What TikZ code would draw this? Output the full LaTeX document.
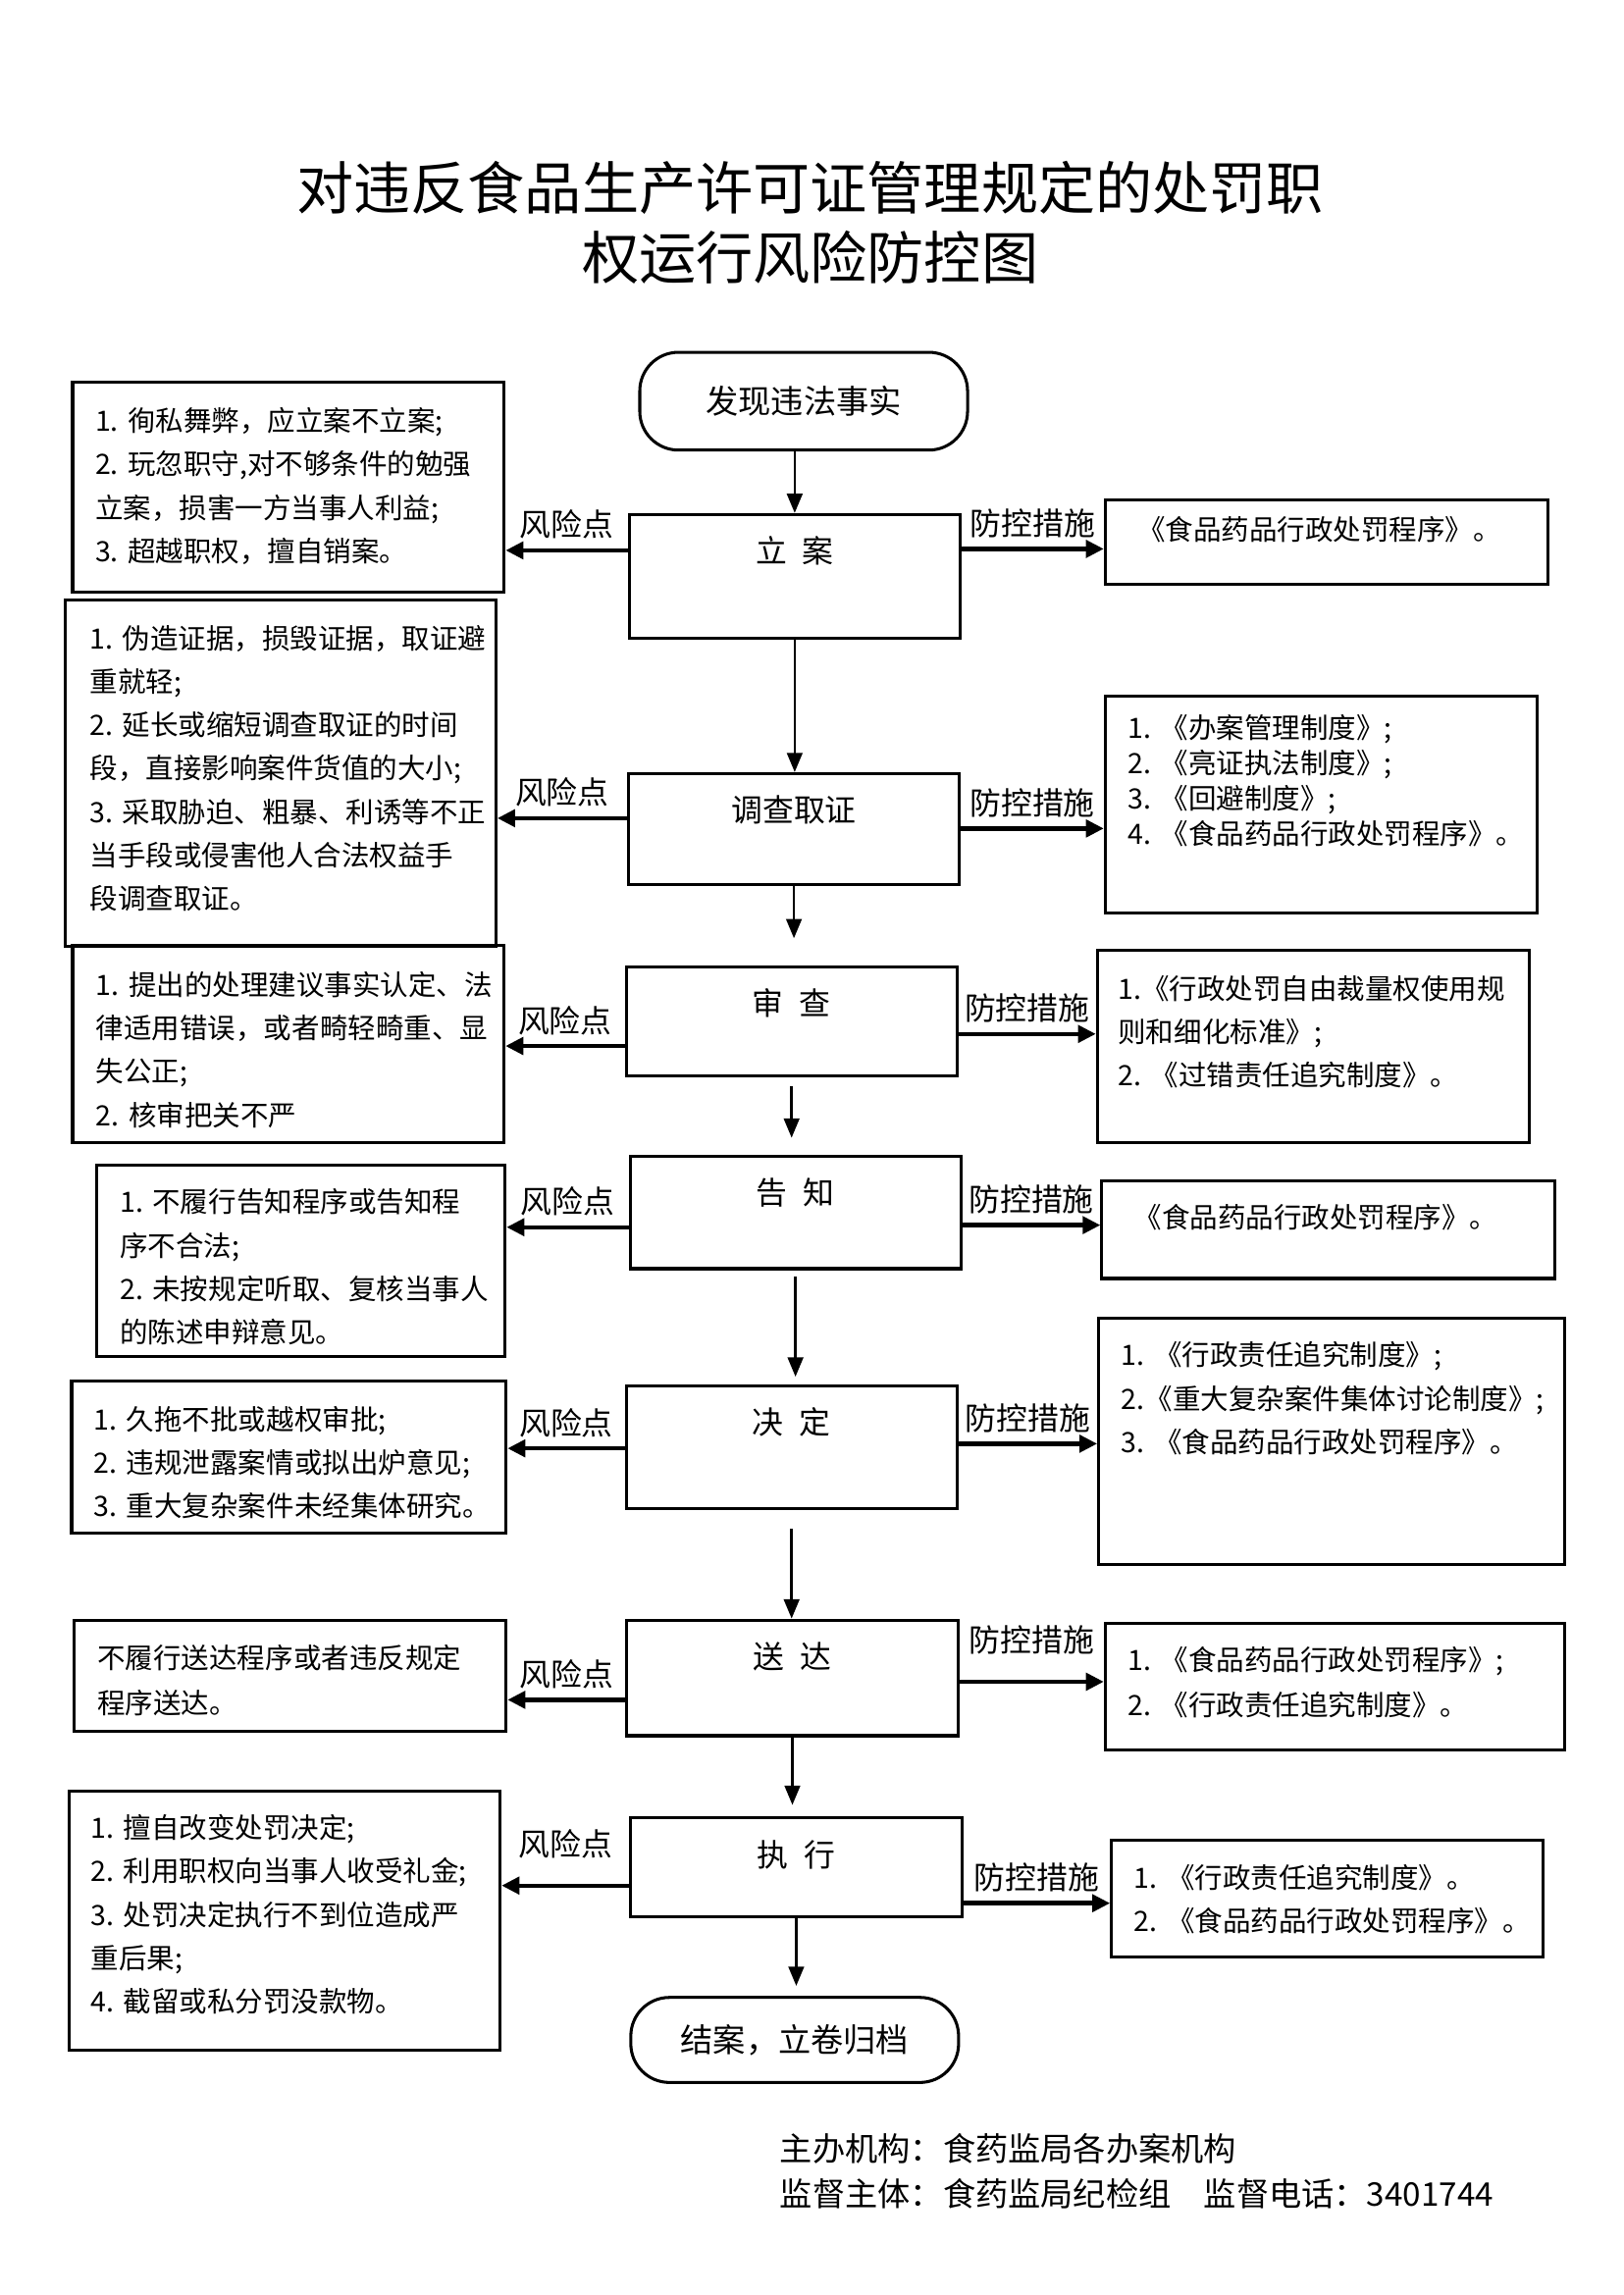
\documentclass[tikz,border=0pt]{standalone}
\usepackage{fontspec}
\setmainfont{Noto Sans CJK SC}
\usetikzlibrary{arrows.meta}

\newcommand{\titlefont}{\fontsize{21pt}{25.7pt}\selectfont}
\newcommand{\boxfont}{\fontsize{10.3pt}{16pt}\selectfont}
\newcommand{\lblfont}{\fontsize{11.5pt}{14pt}\selectfont}
\newcommand{\stagefont}{\fontsize{11.5pt}{14pt}\selectfont}
\newcommand{\capfont}{\fontsize{12pt}{16.4pt}\selectfont}

\begin{document}
\begin{tikzpicture}[x=1mm, y=-1mm, >={Triangle[length=2.5mm, width=2mm]},
  stagebox/.style={draw, line width=1.1pt, anchor=north, inner sep=0pt,
    minimum width=42.8mm, text height=6.25mm, text depth=#1, font=\stagefont},
  infobox/.style={draw, line width=1.1pt, anchor=north west, inner ysep=0pt,
    align=left, font=\boxfont},
  terminal/.style={draw, line width=1.1pt, rounded corners=5mm,
    minimum width=42.4mm, font=\capfont},
  flow/.style={->, line width=0.9pt},
  sidearrow/.style={-{Triangle[length=2.3mm, width=2.2mm]}, line width=1.6pt},
  lbl/.style={font=\lblfont}]
  \fill[white] (0,0) rectangle (210,296.9);
  \useasboundingbox (0,0) rectangle (210,296.9);

  \node[anchor=base, text width=190mm, align=center, font=\titlefont] (title) at (104.81,27.08)
    {对违反食品生产许可证管理规定的处罚职\\权运行风险防控图};

  % main column
  \node[terminal, minimum height=12.65mm] (start) at (103.96,51.9) {发现违法事实};
  \node[stagebox=9.70mm] (lian) at (102.8,66.37) {立\hspace{0.5em}案};
  \node[stagebox=8.05mm] (diaocha) at (102.7,99.89) {调查取证};
  \node[stagebox=7.80mm] (shencha) at (102.4,124.88) {审\hspace{0.5em}查};
  \node[stagebox=8.29mm] (gaozhi) at (102.9,149.39) {告\hspace{0.5em}知};
  \node[stagebox=9.56mm] (jueding) at (102.4,179.10) {决\hspace{0.5em}定};
  \node[stagebox=8.71mm] (songda) at (102.5,209.39) {送\hspace{0.5em}达};
  \node[stagebox=6.55mm] (zhixing) at (103.0,235.0) {执\hspace{0.5em}行};
  \node[terminal, minimum height=11mm] (finish) at (102.8,263.9) {结案，立卷归档};

  \draw[flow] (start.south -| lian.north) -- (lian.north);
  \draw[flow] (lian.south) -- (lian.south |- diaocha.north);
  \draw[flow, shorten >=3.5mm] (diaocha.south) -- (diaocha.south |- shencha.north);
  \draw[flow, shorten <=1.2mm, shorten >=2.2mm] (shencha.south) -- (shencha.south |- gaozhi.north);
  \draw[flow, shorten <=0.8mm, shorten >=1mm] (gaozhi.south) -- (gaozhi.south |- jueding.north);
  \draw[flow, shorten <=2.5mm] (jueding.south) -- (jueding.south |- songda.north);
  \draw[flow, shorten >=1.5mm] (songda.south) -- (songda.south |- zhixing.north);
  \draw[flow, shorten >=1.3mm] (zhixing.south) -- (zhixing.south |- finish.north);

  % risk points
  \node[infobox, minimum width=55.82mm, inner xsep=2.92mm, text width=49.98mm,
    text height=6.38mm, text depth=20.81mm] (risk1) at (9.20,49.23)
    {1.~徇私舞弊，应立案不立案;\\2.~玩忽职守,对不够条件的勉强\\立案，损害一方当事人利益;\\3.~超越职权，擅自销案。};
  \node[infobox, minimum width=55.75mm, inner xsep=3.22mm, text width=49.31mm,
    text height=6.34mm, text depth=38.52mm] (risk2) at (8.20,77.37)
    {1.~伪造证据，损毁证据，取证避\\重就轻;\\2.~延长或缩短调查取证的时间\\段，直接影响案件货值的大小;\\3.~采取胁迫、粗暴、利诱等不正\\当手段或侵害他人合法权益手\\段调查取证。};
  \node[infobox, minimum width=55.80mm, inner xsep=3.03mm, text width=49.74mm,
    text height=6.42mm, text depth=19.09mm] (risk3) at (9.20,122.12)
    {1.~提出的处理建议事实认定、法\\律适用错误，或者畸轻畸重、显\\失公正;\\2.~核审把关不严};
  \node[infobox, minimum width=52.85mm, inner xsep=3.03mm, text width=46.79mm,
    text height=6.08mm, text depth=18.69mm] (risk4) at (12.29,150.58)
    {1.~不履行告知程序或告知程\\序不合法;\\2.~未按规定听取、复核当事人\\的陈述申辩意见。};
  \node[infobox, minimum width=56.20mm, inner xsep=2.88mm, text width=50.44mm,
    text height=6.32mm, text depth=13.41mm] (risk5) at (9.07,178.43)
    {1.~久拖不批或越权审批;\\2.~违规泄露案情或拟出炉意见;\\3.~重大复杂案件未经集体研究。};
  \node[infobox, minimum width=55.88mm, inner xsep=3.03mm, text width=49.82mm,
    text height=6.15mm, text depth=8.12mm, font=\fontsize{10.3pt}{16.7pt}\selectfont] (risk6) at (9.39,209.49)
    {不履行送达程序或者违反规定\\程序送达。};
  \node[infobox, minimum width=55.77mm, inner xsep=2.82mm, text width=50.13mm,
    text height=6.15mm, text depth=27.40mm] (risk7) at (8.73,231.47)
    {1.~擅自改变处罚决定;\\2.~利用职权向当事人收受礼金;\\3.~处罚决定执行不到位造成严\\重后果;\\4.~截留或私分罚没款物。};

  % control measures
  \node[infobox, minimum width=57.32mm, inner xsep=4.17mm, text width=48.98mm,
    text height=5.17mm, text depth=5.70mm] (ctrl1) at (142.78,64.50)
    {《食品药品行政处罚程序》。};
  \node[infobox, minimum width=55.84mm, inner xsep=2.92mm, text width=50.0mm,
    text height=5.42mm, text depth=22.70mm, font=\fontsize{10.3pt}{13pt}\selectfont] (ctrl2) at (142.78,89.85)
    {1.~《办案管理制度》;\\2.~《亮证执法制度》;\\3.~《回避制度》;\\4.~《食品药品行政处罚程序》。};
  \node[infobox, minimum width=55.84mm, inner xsep=2.69mm, text width=50.46mm,
    text height=6.34mm, text depth=18.52mm] (ctrl3) at (141.75,122.71)
    {1.《行政处罚自由裁量权使用规\\则和细化标准》;\\2.~《过错责任追究制度》。};
  \node[infobox, minimum width=58.61mm, inner xsep=4.17mm, text width=50.27mm,
    text height=6.12mm, text depth=6.53mm] (ctrl4) at (142.34,152.55)
    {《食品药品行政处罚程序》。};
  \node[infobox, minimum width=60.29mm, inner xsep=2.94mm, text width=54.41mm,
    text height=6.17mm, text depth=25.75mm] (ctrl5) at (141.93,170.31)
    {1.~《行政责任追究制度》;\\2.《重大复杂案件集体讨论制度》;\\3.~《食品药品行政处罚程序》。};
  \node[infobox, minimum width=59.44mm, inner xsep=2.92mm, text width=53.6mm,
    text height=6.02mm, text depth=10.30mm, font=\fontsize{10.3pt}{16.9pt}\selectfont] (ctrl6) at (142.78,209.85)
    {1.~《食品药品行政处罚程序》;\\2.~《行政责任追究制度》。};
  \node[infobox, minimum width=55.86mm, inner xsep=2.92mm, text width=50.02mm,
    text height=6.25mm, text depth=8.96mm] (ctrl7) at (143.59,237.82)
    {1.~《行政责任追究制度》。\\2.~《食品药品行政处罚程序》。};

  % side arrows
  \draw[sidearrow] (lian.west |- 0,71.20) -- (risk1.east |- 0,71.20) node[lbl, midway, above] {风险点};
  \draw[sidearrow] (diaocha.west |- 0,105.85) -- (risk2.east |- 0,105.85) node[lbl, midway, above] {风险点};
  \draw[sidearrow] (shencha.west |- 0,135.32) -- (risk3.east |- 0,135.32) node[lbl, midway, above] {风险点};
  \draw[sidearrow] (gaozhi.west |- 0,158.76) -- (risk4.east |- 0,158.76) node[lbl, midway, above] {风险点};
  \draw[sidearrow] (jueding.west |- 0,187.37) -- (risk5.east |- 0,187.37) node[lbl, midway, above] {风险点};
  \draw[sidearrow] (songda.west |- 0,219.90) -- (risk6.east |- 0,219.90) node[lbl, midway, above] {风险点};
  \draw[sidearrow] (zhixing.west |- 0,243.93) -- (risk7.east |- 0,243.93) node[lbl, midway, above=6pt] {风险点};

  \draw[sidearrow] (lian.east |- 0,71.01) -- (ctrl1.west |- 0,71.01) node[lbl, midway, above] {防控措施};
  \draw[sidearrow] (diaocha.east |- 0,107.18) -- (ctrl2.west |- 0,107.18) node[lbl, midway, above] {防控措施};
  \draw[sidearrow] (shencha.east |- 0,133.76) -- (ctrl3.west |- 0,133.76) node[lbl, midway, above] {防控措施};
  \draw[sidearrow] (gaozhi.east |- 0,158.49) -- (ctrl4.west |- 0,158.49) node[lbl, midway, above] {防控措施};
  \draw[sidearrow] (jueding.east |- 0,186.77) -- (ctrl5.west |- 0,186.77) node[lbl, midway, above] {防控措施};
  \draw[sidearrow] (songda.east |- 0,217.56) -- (ctrl6.west |- 0,217.56) node[lbl, midway, above=6pt] {防控措施};
  \draw[sidearrow] (zhixing.east |- 0,246.21) -- (ctrl7.west |- 0,246.21) node[lbl, midway, above] {防控措施};

  \node[anchor=base west, text width=100mm, align=left, font=\capfont] (footer) at (99.66,279.59)
    {主办机构：食药监局各办案机构\\监督主体：食药监局纪检组\hspace{1em}监督电话：3401744};
\end{tikzpicture}
\end{document}
